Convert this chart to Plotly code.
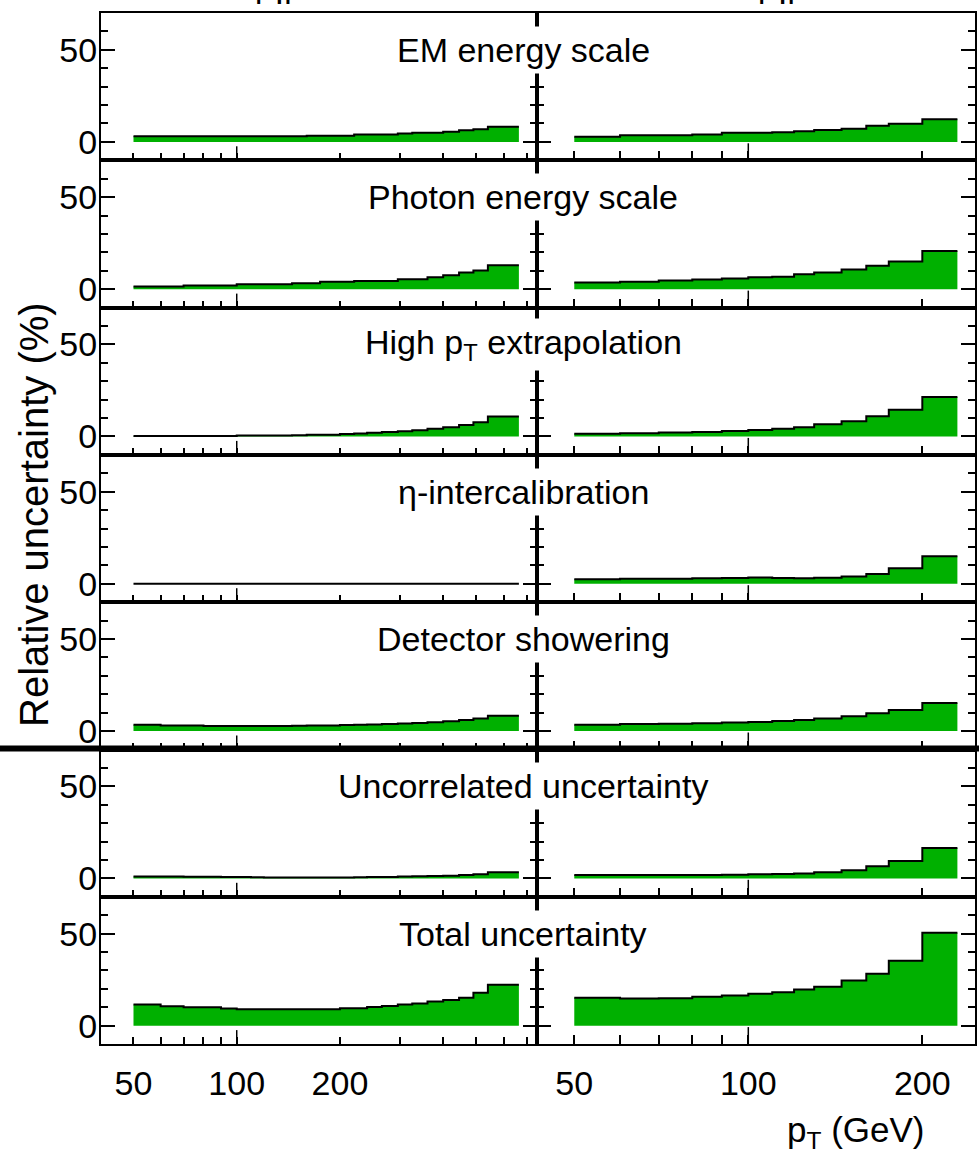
import math
import plotly.graph_objects as go

# ---------------- data ----------------
LEFT_EDGES = [50, 60, 70, 80, 90, 100, 110, 120, 130, 145, 160, 175, 200, 220, 240,
              265, 295, 325, 360, 400, 445, 490, 540, 665]
RIGHT_EDGES = [50, 60, 70, 80, 90, 100, 110, 120, 130, 145, 160, 175, 200, 230]

TITLES = ["EM energy scale", "Photon energy scale", "High p<sub>T</sub> extrapolation",
          "η-intercalibration", "Detector showering", "Uncorrelated uncertainty",
          "Total uncertainty"]

em_left = [3.0, 3.0, 3.0, 3.0, 3.0, 3.0, 3.0, 3.0, 3.0, 3.0, 3.4, 3.4, 3.4, 4.0, 4.0,
           4.0, 4.6, 5.0, 5.0, 5.5, 6.3, 6.9, 8.2]
pes_left = [1.4, 1.4, 2.0, 2.0, 2.0, 2.7, 2.7, 2.7, 2.7, 3.2, 3.2, 4.0, 4.0, 4.5, 4.5,
            4.5, 5.4, 5.4, 6.5, 7.6, 9.0, 10.1, 13.0]
highpt_left = [0.3, 0.3, 0.3, 0.3, 0.3, 0.5, 0.5, 0.5, 0.5, 0.7, 0.9, 1.0, 1.3, 1.6, 2.0,
               2.4, 2.9, 3.4, 4.2, 5.0, 6.2, 7.8, 10.8]
eta_left = [0.0, 0.0, 0.0, 0.0, 0.0, 0.0, 0.0, 0.0, 0.0, 0.0, 0.0, 0.0, 0.0, 0.0, 0.0,
            0.0, 0.0, 0.0, 0.0, 0.0, 0.0, 0.0, 0.0]
shower_left = [3.5, 3.0, 3.0, 2.8, 2.8, 2.8, 2.8, 2.8, 2.8, 2.9, 3.0, 3.1, 3.3, 3.5, 3.6,
               3.8, 4.1, 4.4, 4.8, 5.3, 6.0, 6.9, 8.3]
uncorr_left = [1.0, 1.0, 0.9, 0.9, 0.8, 0.7, 0.6, 0.5, 0.5, 0.5, 0.5, 0.5, 0.5, 0.6, 0.7,
               0.8, 1.0, 1.1, 1.3, 1.5, 1.8, 2.2, 3.3]
total_left = [11.5, 10.5, 10.0, 10.0, 9.3, 8.9, 8.9, 8.9, 8.9, 8.9, 8.9, 8.9, 9.5, 9.5, 10.2,
              10.7, 11.5, 12.0, 13.1, 13.9, 15.2, 17.9, 22.3]

em_right = [2.8, 3.6, 3.6, 4.0, 4.9, 4.9, 5.3, 5.8, 6.4, 7.2, 8.7, 9.8, 12.3]
pes_right = [3.6, 4.1, 4.7, 5.2, 5.8, 6.5, 6.8, 8.1, 9.0, 10.7, 12.7, 15.0, 20.8]
highpt_right = [1.5, 1.8, 2.1, 2.5, 3.0, 3.5, 4.2, 5.0, 6.7, 8.3, 11.0, 14.5, 21.4]
eta_right = [2.5, 2.7, 2.8, 3.0, 3.2, 3.4, 3.2, 3.0, 3.3, 4.0, 5.3, 8.5, 15.0]
shower_right = [3.5, 3.8, 4.0, 4.3, 4.6, 5.0, 5.5, 6.0, 6.8, 8.0, 9.7, 11.5, 15.2]
uncorr_right = [1.8, 1.8, 1.8, 1.9, 2.0, 2.2, 2.4, 2.7, 3.3, 4.4, 6.6, 9.5, 16.5]
total_right = [15.2, 14.7, 14.9, 15.7, 16.4, 17.3, 18.2, 19.6, 21.2, 24.5, 28.2, 35.3, 50.5]

LEFT_VALUES = [em_left, pes_left, highpt_left, eta_left, shower_left, uncorr_left, total_left]
RIGHT_VALUES = [em_right, pes_right, highpt_right, eta_right, shower_right, uncorr_right, total_right]

X_TICKS = [50, 100, 200]
X_TICKTEXT = ["50", "100", "200"]
LEFT_MINOR = [60, 70, 80, 90, 300, 400, 500, 600, 700]
RIGHT_MINOR = [60, 70, 80, 90]
Y_TICKS = [0, 50]
Y_MINOR = [10, 20, 30, 40, 60]

# ---------------- layout ----------------
W, H = 979, 1167
FONT = "Liberation Sans, Arial, Helvetica, sans-serif"
GREEN = "#00B000"

ROW_TOP = 13.0
ROW_H = 147.3
X_DOM = [[101 / W, 537 / W], [537 / W, 975 / W]]
X_RANGE = [[math.log10(40.2), math.log10(751)], [math.log10(43.1), math.log10(246.7)]]
MAJ_LEN = [7, 9]
DEC_LEN = [14, 17]

fig = go.Figure()
layout = dict(width=W, height=H, margin=dict(l=0, r=0, t=0, b=0),
              paper_bgcolor="white", plot_bgcolor="white", showlegend=False)
shapes = []
annotations = []

for r in range(7):
    top = ROW_TOP + ROW_H * r
    bot = top + ROW_H
    ydom = [1 - bot / H, 1 - top / H]
    for c in range(2):
        k = r * 2 + c + 1
        xs = "x" if k == 1 else f"x{k}"
        ys = "y" if k == 1 else f"y{k}"
        edges = LEFT_EDGES if c == 0 else RIGHT_EDGES
        vals = (LEFT_VALUES if c == 0 else RIGHT_VALUES)[r]
        fig.add_trace(go.Scatter(
            x=edges, y=list(vals) + [vals[-1]], mode="lines",
            line=dict(shape="hv", color="black", width=2),
            fill="tozeroy", fillcolor=GREEN, xaxis=xs, yaxis=ys,
            hoverinfo="skip"))
        xname = "xaxis" if k == 1 else f"xaxis{k}"
        yname = "yaxis" if k == 1 else f"yaxis{k}"
        layout[xname] = dict(
            type="log", domain=X_DOM[c], range=X_RANGE[c], anchor=ys,
            showline=True, linecolor="black", linewidth=2, mirror=True,
            ticks="inside", ticklen=MAJ_LEN[c], tickwidth=1.5, tickcolor="black",
            tickmode="array", tickvals=X_TICKS, ticktext=X_TICKTEXT,
            showticklabels=(r == 6), ticklabelstandoff=8,
            tickfont=dict(family=FONT, size=34, color="black"),
            showgrid=False, zeroline=False,
            minor=dict(tickmode="array", tickvals=LEFT_MINOR if c == 0 else RIGHT_MINOR,
                       ticks="inside", ticklen=MAJ_LEN[c], tickwidth=1.5,
                       tickcolor="black", showgrid=False))
        layout[yname] = dict(
            domain=ydom, range=[-10, 70], anchor=xs,
            showline=True, linecolor="black", linewidth=2, mirror="ticks",
            ticks="inside", ticklen=14, tickwidth=1.5, tickcolor="black",
            tickmode="array", tickvals=Y_TICKS, ticktext=["0", "50"],
            showticklabels=(c == 0), ticklabelstandoff=-5,
            tickfont=dict(family=FONT, size=34, color="black"),
            showgrid=False, zeroline=False,
            minor=dict(tickmode="array", tickvals=Y_MINOR, ticks="inside", ticklen=7,
                       tickwidth=1.5, tickcolor="black", showgrid=False))
        # decade tick (longer)
        shapes.append(dict(type="line", xref=xs, yref=f"{ys} domain", x0=100, x1=100,
                           y0=0, y1=DEC_LEN[c] / ROW_H, line=dict(color="black", width=1.5)))
    # panel title
    annotations.append(dict(
        text=TITLES[r], xref="paper", x=523 / W, yref="y" if r == 0 else f"y{r * 2 + 1}",
        y=50, xanchor="center", yanchor="middle", showarrow=False,
        bgcolor="white", borderpad=4,
        font=dict(family=FONT, size=34, color="black")))

# thick separator
shapes.append(dict(type="line", xref="paper", yref="paper", x0=0, x1=1,
                   y0=1 - 748.5 / H, y1=1 - 748.5 / H, line=dict(color="black", width=6)))

# axis titles
annotations.append(dict(text="Relative uncertainty (%)", textangle=-90, xref="paper",
                        yref="paper", x=34 / W, y=1 - 515 / H, xanchor="center",
                        yanchor="middle", showarrow=False,
                        font=dict(family=FONT, size=40, color="black")))
annotations.append(dict(text="p<sub>T</sub> (GeV)", xref="paper", yref="paper",
                        x=927 / W, y=1 - 1132 / H, xanchor="right", yanchor="middle",
                        showarrow=False, font=dict(family=FONT, size=35, color="black")))
# bin-range labels at the top (mostly outside the picture)
annotations.append(dict(text="|η| < 1.3", xref="paper", yref="paper", x=253 / W,
                        y=1 - 5 / H, xanchor="left", yanchor="bottom", borderpad=0,
                        showarrow=False, font=dict(family=FONT, size=36, color="black")))
annotations.append(dict(text="1.3 < |η| < 2.5", xref="paper", yref="paper", x=665 / W,
                        y=1 - 5 / H, xanchor="left", yanchor="bottom", borderpad=0,
                        showarrow=False, font=dict(family=FONT, size=36, color="black")))

layout["shapes"] = shapes
layout["annotations"] = annotations
fig.update_layout(**layout)
fig.write_html("out.html")
